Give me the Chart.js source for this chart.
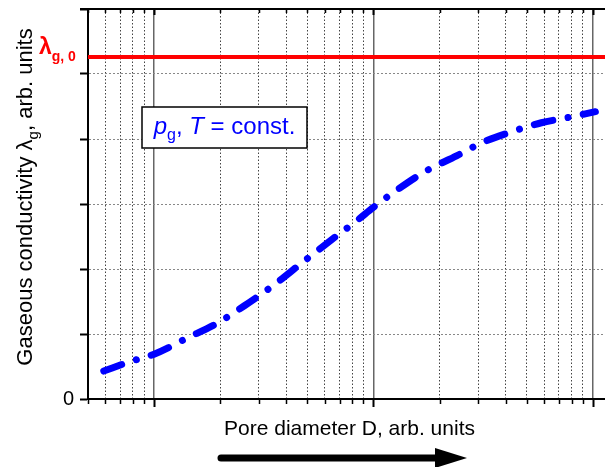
<!DOCTYPE html>
<html>
<head>
<meta charset="utf-8">
<script src="https://cdn.jsdelivr.net/npm/chart.js@4.4.1/dist/chart.umd.min.js"></script>
<style>
  html, body { margin: 0; padding: 0; background: #fff; }
  #wrap { width: 605px; height: 467px; }
</style>
</head>
<body>
<div id="wrap"><canvas id="conductivityChart"></canvas></div>
<script>
// pore diameter (arb. units, log axis) and gaseous conductivity (arb. units)
const diameter = [0.59, 0.77, 1.0, 1.42, 1.95, 2.7, 3.47, 4.7, 6.44, 8.37, 10, 12.85, 17.4, 23.9, 31, 42.5, 58.2, 74.1, 102.6];
const conductivity = [0.43, 0.57, 0.69, 0.94, 1.17, 1.48, 1.74, 2.09, 2.45, 2.74, 2.95, 3.22, 3.51, 3.74, 3.94, 4.11, 4.25, 4.32, 4.42];
const lambda0 = 5.26;          // free gas conductivity level
const xRange = [0.5, 113.5];
const xTicks = [0.5, 0.6, 0.7, 0.8, 0.9, 1, 2, 3, 4, 5, 6, 7, 8, 9, 10, 20, 30, 40, 50, 60, 70, 80, 90, 100];
const yTicks = [0, 1, 2, 3, 4, 5, 6];

const FONT = '"Liberation Sans", Arial, Helvetica, sans-serif';

function isDecade(v) {
    const l = Math.log10(v);
    return Math.abs(l - Math.round(l)) < 1e-9;
}

// draws a run of text pieces: [text, fontSize, italic, bold, baselineShift]
function drawPieces(ctx, pieces, x, y, color) {
    ctx.fillStyle = color;
    ctx.textBaseline = 'alphabetic';
    ctx.textAlign = 'left';
    let cx = x;
    pieces.forEach(p => {
        ctx.font = (p[2] ? 'italic ' : '') + (p[3] ? 'bold ' : '') + p[1] + 'px ' + FONT;
        ctx.fillText(p[0], cx, y + (p[4] || 0));
        cx += ctx.measureText(p[0]).width;
    });
    return cx - x;
}

function piecesWidth(ctx, pieces) {
    let w = 0;
    pieces.forEach(p => {
        ctx.font = (p[2] ? 'italic ' : '') + (p[3] ? 'bold ' : '') + p[1] + 'px ' + FONT;
        w += ctx.measureText(p[0]).width;
    });
    return w;
}

const decorations = {
    id: 'decorations',
    afterDraw(chart) {
        const { ctx, chartArea: a, scales: { x, y } } = chart;
        ctx.save();

        // top frame
        ctx.strokeStyle = '#000';
        ctx.lineWidth = 2;
        ctx.beginPath();
        ctx.moveTo(a.left - 8, a.top);
        ctx.lineTo(a.right, a.top);
        ctx.stroke();

        // x tick marks: outward at the bottom, inward at the top
        x.ticks.forEach(t => {
            const px = Math.round(x.getPixelForValue(t.value)) + 0.5;
            const major = isDecade(t.value);
            ctx.lineWidth = major ? 2 : 1.5;
            ctx.beginPath();
            ctx.moveTo(px, a.bottom);
            ctx.lineTo(px, a.bottom + (major ? 8 : 5));
            ctx.moveTo(px, a.top);
            ctx.lineTo(px, a.top + (major ? 6 : 4));
            ctx.stroke();
        });

        // lambda_g,0 label next to the red line
        const ly = y.getPixelForValue(lambda0);
        drawPieces(ctx, [['λ', 23, false, true, 0], ['g, 0', 14, false, true, 7]], 39, ly - 3, '#ff0000');

        // condition box
        const bx = a.left + 54, by = a.top + 98, bw = 165, bh = 41;
        ctx.fillStyle = '#fff';
        ctx.fillRect(bx, by, bw, bh);
        ctx.strokeStyle = '#000';
        ctx.lineWidth = 1.5;
        ctx.strokeRect(bx, by, bw, bh);
        const boxText = [['p', 24, true, false, 0], ['g', 16, false, false, 6], [', ', 24, false, false, 0],
                         ['T', 24, true, false, 0], [' = const.', 24, false, false, 0]];
        const tw = piecesWidth(ctx, boxText);
        drawPieces(ctx, boxText, bx + (bw - tw) / 2, by + 27, '#0000ff');

        // y axis title (rotated)
        const yTitle = [['Gaseous conductivity λ', 22, false, false, 0], ['g', 15, false, false, 6], [', arb. units', 22, false, false, 0]];
        const yw = piecesWidth(ctx, yTitle);
        ctx.translate(32, 197);
        ctx.rotate(-Math.PI / 2);
        drawPieces(ctx, yTitle, -yw / 2, 0, '#000');
        ctx.setTransform(1, 0, 0, 1, 0, 0);

        // x axis title
        ctx.font = '21px ' + FONT;
        ctx.fillStyle = '#000';
        ctx.textAlign = 'center';
        ctx.fillText('Pore diameter D, arb. units', (a.left + a.right) / 2 + 3, a.bottom + 36);

        // direction arrow
        const ay = a.bottom + 59;
        ctx.strokeStyle = '#000';
        ctx.lineWidth = 7;
        ctx.lineCap = 'round';
        ctx.beginPath();
        ctx.moveTo(221, ay);
        ctx.lineTo(440, ay);
        ctx.stroke();
        ctx.fillStyle = '#000';
        ctx.beginPath();
        ctx.moveTo(435, ay - 10);
        ctx.lineTo(467, ay);
        ctx.lineTo(435, ay + 10);
        ctx.closePath();
        ctx.fill();

        ctx.restore();
    }
};

const ctx = document.getElementById('conductivityChart').getContext('2d');
new Chart(ctx, {
    type: 'line',
    data: {
        datasets: [
            {
                data: diameter.map((d, i) => ({ x: d, y: conductivity[i] })),
                borderColor: '#0000ff',
                borderWidth: 7,
                borderCapStyle: 'round',
                borderDash: [19, 15.5, 0.01, 15.5],
                cubicInterpolationMode: 'monotone',
                pointRadius: 0,
                fill: false
            },
            {
                data: [{ x: xRange[0], y: lambda0 }, { x: xRange[1], y: lambda0 }],
                borderColor: '#ff0000',
                borderWidth: 4,
                pointRadius: 0,
                fill: false
            }
        ]
    },
    plugins: [decorations],
    options: {
        responsive: true,
        maintainAspectRatio: false,
        animation: false,
        layout: { padding: { top: 9, right: 0, left: 0, bottom: 0 } },
        plugins: { legend: { display: false }, tooltip: { enabled: false } },
        scales: {
            x: {
                type: 'logarithmic',
                min: xRange[0],
                max: xRange[1],
                afterBuildTicks: scale => { scale.ticks = xTicks.map(v => ({ value: v })); },
                afterFit: scale => { scale.height = 68; scale.paddingLeft = 0; scale.paddingRight = 0; },
                ticks: { display: false },
                grid: {
                    drawTicks: false,
                    color: c => (c.tick && isDecade(c.tick.value)) ? '#666' : '#444',
                    lineWidth: c => (c.tick && isDecade(c.tick.value)) ? 1.5 : 1
                },
                border: {
                    color: '#000',
                    width: 2,
                    dash: c => (c.tick && isDecade(c.tick.value)) ? [] : [1.5, 2]
                }
            },
            y: {
                min: 0,
                max: 6,
                afterBuildTicks: scale => { scale.ticks = yTicks.map(v => ({ value: v })); },
                afterFit: scale => { scale.width = 88; scale.paddingTop = 0; scale.paddingBottom = 0; },
                ticks: {
                    padding: 6,
                    color: '#000',
                    font: { family: FONT, size: 20 },
                    callback: v => v === 0 ? '0' : ''
                },
                grid: {
                    color: '#888',
                    lineWidth: 1,
                    tickLength: 8,
                    tickColor: '#000',
                    tickWidth: 2
                },
                border: { color: '#000', width: 2, dash: [2, 2] }
            }
        }
    }
});
</script>
</body>
</html>
